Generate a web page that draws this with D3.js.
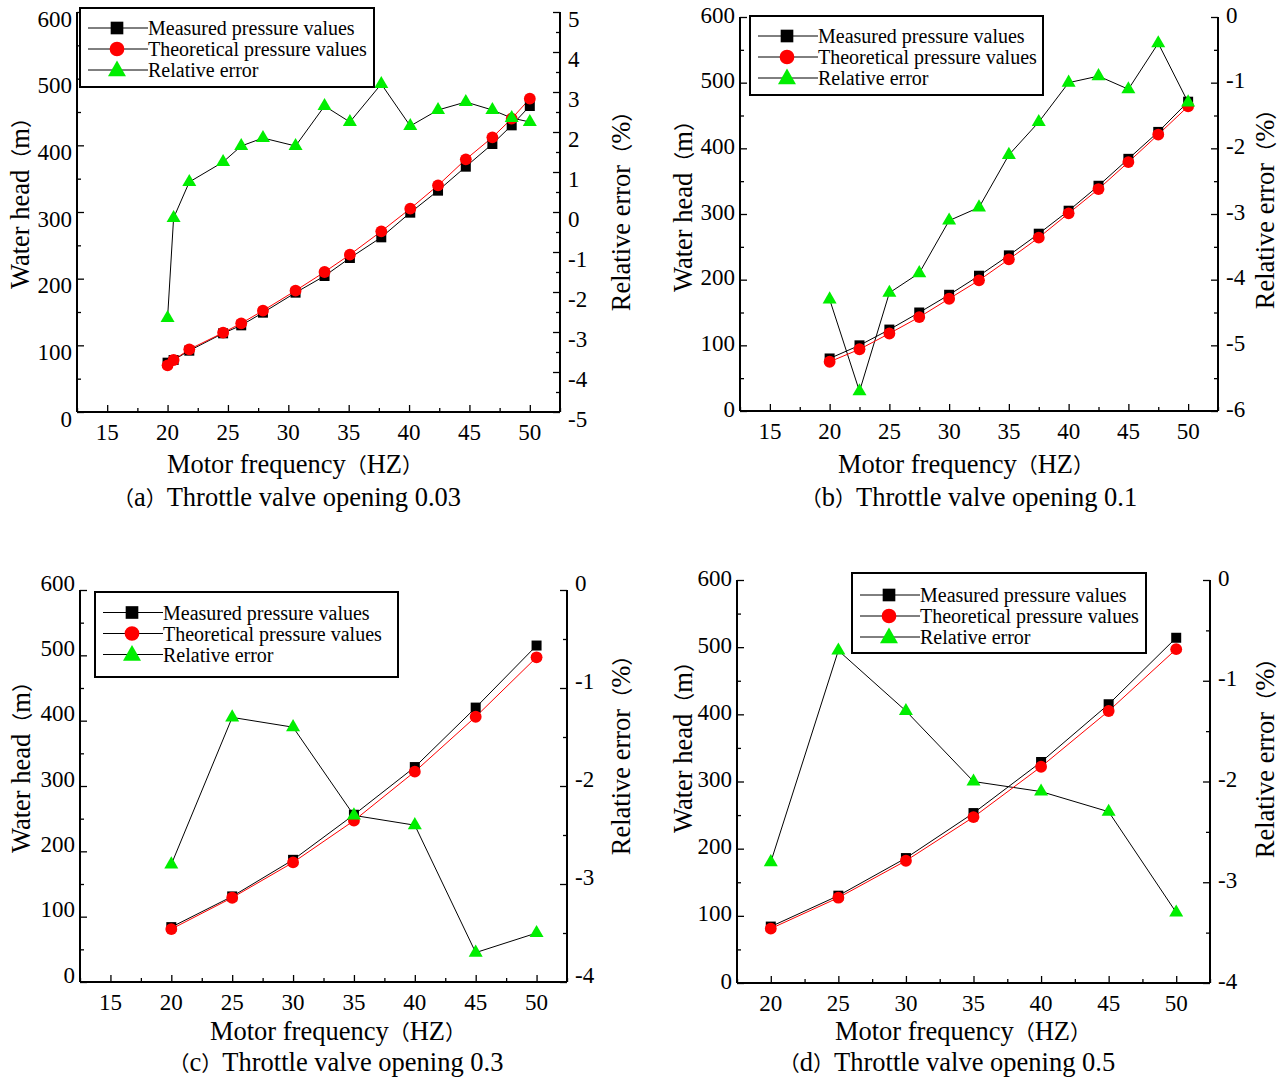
<!DOCTYPE html>
<html>
<head>
<meta charset="utf-8">
<script src="https://cdn.jsdelivr.net/npm/d3@7"></script>
<style>
html,body{margin:0;padding:0;background:#fff;}
svg text{font-family:"Liberation Serif","Times New Roman",serif;fill:#000;}
</style>
</head>
<body>
<svg id="chart" width="1287" height="1079"></svg>
<script>
// ---------------- DATA ----------------
const legendLabels = ["Measured pressure values", "Theoretical pressure values", "Relative error"];
const leftTicks = [0, 100, 200, 300, 400, 500, 600];

// (a) Throttle valve opening 0.03
const freqA = [20, 20.5, 21.8, 24.6, 26.1, 27.9, 30.6, 33, 35.1, 37.7, 40.1, 42.4, 44.7, 46.9, 48.5, 50];
const measuredA = [74, 78, 92, 118, 130, 149, 179, 204, 231, 262, 299, 332, 368, 402, 430, 459];
const theoreticalA = [70, 78, 94, 119, 133, 152, 182, 210, 236, 271, 305, 340, 379, 412, 440, 470];
const errorA = [-2.65, -0.15, 0.75, 1.25, 1.65, 1.85, 1.65, 2.65, 2.25, 3.2, 2.15, 2.55, 2.75, 2.55, 2.35, 2.25];
const xTicksA = [15, 20, 25, 30, 35, 40, 45, 50];
const rightTicksA = [-5, -4, -3, -2, -1, 0, 1, 2, 3, 4, 5];

// (b) Throttle valve opening 0.1
const freqB = [20, 22.5, 25, 27.5, 30, 32.5, 35, 37.5, 40, 42.5, 45, 47.5, 50];
const measuredB = [80, 100, 124, 150, 177, 206, 237, 270, 305, 343, 384, 425, 471];
const theoreticalB = [75, 94, 118, 143, 171, 199, 231, 264, 301, 338, 379, 421, 464];
const errorB = [-4.3, -5.7, -4.2, -3.9, -3.1, -2.9, -2.1, -1.6, -1.0, -0.9, -1.1, -0.4, -1.3];
const xTicksB = [15, 20, 25, 30, 35, 40, 45, 50];
const rightTicksB = [-6, -5, -4, -3, -2, -1, 0];

// (c) Throttle valve opening 0.3
const freqC = [20, 25, 30, 35, 40, 45, 50];
const measuredC = [84, 131, 187, 256, 329, 420, 515];
const theoreticalC = [81, 129, 183, 247, 322, 406, 497];
const errorC = [-2.8, -1.3, -1.4, -2.3, -2.4, -3.7, -3.5];
const xTicksC = [15, 20, 25, 30, 35, 40, 45, 50];
const rightTicksC = [-4, -3, -2, -1, 0];

// (d) Throttle valve opening 0.5
const freqD = [20, 25, 30, 35, 40, 45, 50];
const measuredD = [84, 130, 186, 253, 329, 415, 514];
const theoreticalD = [81, 127, 182, 247, 322, 405, 497];
const errorD = [-2.8, -0.7, -1.3, -2.0, -2.1, -2.3, -3.3];
const xTicksD = [20, 25, 30, 35, 40, 45, 50];
const rightTicksD = [-4, -3, -2, -1, 0];

const captions = ["（a）Throttle valve opening 0.03", "（b）Throttle valve opening 0.1",
                  "（c）Throttle valve opening 0.3", "（d）Throttle valve opening 0.5"];
const xTitle = "Motor frequency（HZ）";
const leftTitle = "Water head（m）";
const rightTitle = "Relative error（%）";

// ---------------- DRAWING ----------------
const svg = d3.select("#chart");
const GREEN = "#00ee00";
const RED = "#ff0000";
const CJK = "'Noto Sans CJK SC','Noto Sans CJK JP',sans-serif";

const panels = [
  {freq: freqA, meas: measuredA, theo: theoreticalA, err: errorA, xTicks: xTicksA, rTicks: rightTicksA,
   cap: captions[0], L: 77, R: 560, T: 12, B: 412, xDom: [12.5, 52.5], lblOff: 7,
   xTitlePos: [295, 465], capPos: [287, 498], lTitlePos: [21, 198], rTitlePos: [622, 206],
   leg: [80, 8, 294, 79], legRow: 28},
  {freq: freqB, meas: measuredB, theo: theoreticalB, err: errorB, xTicks: xTicksB, rTicks: rightTicksB,
   cap: captions[1], L: 740, R: 1218, T: 17, B: 411, xDom: [12.5, 52.5], lblOff: -2,
   xTitlePos: [966, 465], capPos: [969, 498], lTitlePos: [684, 201], rTitlePos: [1266, 204],
   leg: [750, 16, 293, 79], legRow: 36},
  {freq: freqC, meas: measuredC, theo: theoreticalC, err: errorC, xTicks: xTicksC, rTicks: rightTicksC,
   cap: captions[2], L: 80, R: 567, T: 590, B: 982, xDom: [12.5, 52.5], lblOff: -7,
   xTitlePos: [338, 1032], capPos: [336, 1063], lTitlePos: [22, 762], rTitlePos: [622, 750],
   leg: [95, 592, 303, 85], legRow: 612.5},
  {freq: freqD, meas: measuredD, theo: theoreticalD, err: errorD, xTicks: xTicksD, rTicks: rightTicksD,
   cap: captions[3], L: 737, R: 1210, T: 580, B: 983, xDom: [17.5, 52.5], lblOff: -2,
   xTitlePos: [963, 1032], capPos: [947, 1063], lTitlePos: [684, 742], rTitlePos: [1266, 753],
   leg: [852, 573, 294, 80], legRow: 595}
];

const squareSym = d3.symbol().type(d3.symbolSquare).size(100);
const circleSym = d3.symbol().type(d3.symbolCircle).size(110);
const triSym = d3.symbol().type(d3.symbolTriangle).size(85);

// text with full-width parentheses rendered in a CJK font
function richText(sel, str) {
  str.split(/([（）])/).filter(s => s.length).forEach(part => {
    const t = sel.append("tspan").text(part);
    if (part === "（" || part === "）") t.style("font-family", CJK).style("font-size", "21px");
  });
  return sel;
}

function drawPanel(p) {
  const g = svg.append("g");
  const x = d3.scaleLinear().domain(p.xDom).range([p.L, p.R]);
  const y = d3.scaleLinear().domain([0, 600]).range([p.B, p.T]);
  const rDom = d3.extent(p.rTicks);
  const yr = d3.scaleLinear().domain(rDom).range([p.B, p.T]);

  // axes
  const xMinor = d3.range(Math.ceil(p.xDom[0] / 2.5) * 2.5, p.xDom[1] + 0.01, 2.5);
  const xAxis = d3.axisTop(x).tickValues(p.xTicks).tickSize(7).tickFormat("");
  const xAxisMinor = d3.axisTop(x).tickValues(xMinor.filter(v => v % 5 !== 0)).tickSize(4).tickFormat("");
  const lMinor = d3.range(50, 600, 100);
  const lAxis = d3.axisRight(y).tickValues(leftTicks).tickSize(7).tickFormat("");
  const lAxisMinor = d3.axisRight(y).tickValues(lMinor).tickSize(4).tickFormat("");
  const rMinor = d3.range(rDom[0] + 0.5, rDom[1], 1);
  const rAxis = d3.axisLeft(yr).tickValues(p.rTicks).tickSize(7).tickFormat("");
  const rAxisMinor = d3.axisLeft(yr).tickValues(rMinor).tickSize(4).tickFormat("");

  const axStyle = sel => {
    sel.selectAll("path").attr("stroke", "#000").attr("stroke-width", 2);
    sel.selectAll("line").attr("stroke", "#000").attr("stroke-width", 1.3);
  };
  g.append("g").attr("transform", `translate(0,${p.B})`).call(xAxisMinor).call(axStyle)
    .select("path").remove();
  g.append("g").attr("transform", `translate(${p.L},0)`).call(lAxisMinor).call(axStyle)
    .select("path").remove();
  g.append("g").attr("transform", `translate(${p.R},0)`).call(rAxisMinor).call(axStyle)
    .select("path").remove();
  const gx = g.append("g").attr("transform", `translate(0,${p.B})`).call(xAxis).call(axStyle);
  gx.select("path").attr("d", `M${p.L},0H${p.R}`);
  const gl = g.append("g").attr("transform", `translate(${p.L},0)`).call(lAxis).call(axStyle);
  gl.select("path").attr("d", `M0,${p.T}V${p.B}`);
  const gr = g.append("g").attr("transform", `translate(${p.R},0)`).call(rAxis).call(axStyle);
  gr.select("path").attr("d", `M0,${p.T}V${p.B}`);

  // tick labels
  const fs = 23;
  g.selectAll(".xl").data(p.xTicks).enter().append("text")
    .attr("x", d => x(d)).attr("y", p.B + 20).attr("text-anchor", "middle")
    .attr("dominant-baseline", "central").attr("font-size", fs).text(d => d);
  g.selectAll(".ll").data(leftTicks).enter().append("text")
    .attr("x", p.L - 5).attr("y", d => y(d) + p.lblOff).attr("text-anchor", "end")
    .attr("dominant-baseline", "central").attr("font-size", fs).text(d => d);
  g.selectAll(".rl").data(p.rTicks).enter().append("text")
    .attr("x", p.R + 8).attr("y", d => yr(d) + p.lblOff).attr("text-anchor", "start")
    .attr("dominant-baseline", "central").attr("font-size", fs).text(d => d);

  // titles (alphabetic baseline placed ~8px below the visual centre)
  const tfs = 26.5;
  const bl = 8;
  richText(g.append("text").attr("x", p.xTitlePos[0]).attr("y", p.xTitlePos[1] + bl).attr("text-anchor", "middle")
    .attr("font-size", tfs), xTitle);
  richText(g.append("text").attr("x", p.capPos[0]).attr("y", p.capPos[1] + bl).attr("text-anchor", "middle")
    .attr("font-size", tfs), p.cap);
  richText(g.append("text").attr("transform", `translate(${p.lTitlePos[0] + bl},${p.lTitlePos[1]}) rotate(-90)`)
    .attr("text-anchor", "middle").attr("font-size", tfs), leftTitle);
  richText(g.append("text").attr("transform", `translate(${p.rTitlePos[0] + bl},${p.rTitlePos[1]}) rotate(-90)`)
    .attr("text-anchor", "middle").attr("font-size", tfs), rightTitle);

  // lines
  const idx = d3.range(p.freq.length);
  const lineM = d3.line().x(i => x(p.freq[i])).y(i => y(p.meas[i]));
  const lineT = d3.line().x(i => x(p.freq[i])).y(i => y(p.theo[i]));
  const lineE = d3.line().x(i => x(p.freq[i])).y(i => yr(p.err[i]));
  g.append("path").attr("d", lineE(idx)).attr("fill", "none").attr("stroke", "#000").attr("stroke-width", 1);
  g.append("path").attr("d", lineM(idx)).attr("fill", "none").attr("stroke", "#000").attr("stroke-width", 1);
  g.append("path").attr("d", lineT(idx)).attr("fill", "none").attr("stroke", RED).attr("stroke-width", 1);

  g.selectAll(".sq").data(idx).enter().append("path").attr("d", squareSym)
    .attr("transform", i => `translate(${x(p.freq[i])},${y(p.meas[i])})`).attr("fill", "#000");
  g.selectAll(".ci").data(idx).enter().append("path").attr("d", circleSym)
    .attr("transform", i => `translate(${x(p.freq[i])},${y(p.theo[i])})`).attr("fill", RED);
  g.selectAll(".tr").data(idx).enter().append("path").attr("d", triSym)
    .attr("transform", i => `translate(${x(p.freq[i])},${yr(p.err[i])})`).attr("fill", GREEN);

  // legend
  const [lx, ly, lw, lh] = p.leg;
  g.append("rect").attr("x", lx).attr("y", ly).attr("width", lw).attr("height", lh)
    .attr("fill", "#fff").attr("stroke", "#000").attr("stroke-width", 2);
  const rowH = 21;
  const syms = [
    d3.symbol().type(d3.symbolSquare).size(160),
    d3.symbol().type(d3.symbolCircle).size(170),
    d3.symbol().type(d3.symbolTriangle).size(140)
  ];
  const fills = ["#000", RED, GREEN];
  legendLabels.forEach((lab, k) => {
    const yy = p.legRow + k * rowH;
    const mx = lx + 37;
    g.append("line").attr("x1", lx + 8).attr("x2", lx + 68).attr("y1", yy).attr("y2", yy)
      .attr("stroke", "#000").attr("stroke-width", 1);
    g.append("path").attr("d", syms[k]).attr("transform", `translate(${mx},${yy + (k === 2 ? 1 : 0)})`).attr("fill", fills[k]);
    g.append("text").attr("x", lx + 68).attr("y", yy).attr("dominant-baseline", "central")
      .attr("font-size", 20).text(lab);
  });
}

panels.forEach(drawPanel);
</script>
</body>
</html>
